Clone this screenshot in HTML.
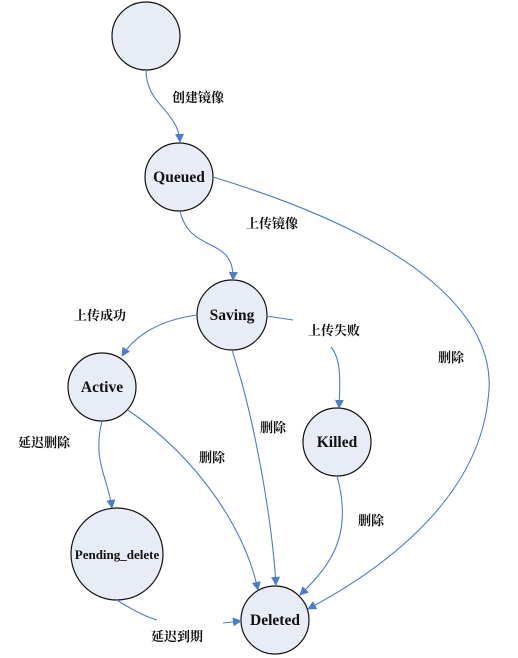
<!DOCTYPE html>
<html><head><meta charset="utf-8"><style>
html,body{margin:0;padding:0;background:#fff;}
svg{display:block}
.n{fill:#e7ecf7;stroke:#111;stroke-width:1.2}
.e{fill:none;stroke:#4a7cc9;stroke-width:1.1}
.t{font-family:"Liberation Serif","Noto Serif CJK SC",serif;font-weight:bold;font-size:15.5px;fill:#111}
.c{font-family:"Liberation Serif","Noto Serif CJK SC",serif;font-weight:bold;font-size:13px;fill:#111}
</style></head><body>
<svg width="518" height="658" viewBox="0 0 518 658" xmlns="http://www.w3.org/2000/svg">
<defs><marker id="a" viewBox="0 0 10 10" refX="9" refY="5" markerWidth="9" markerHeight="9" orient="auto" markerUnits="userSpaceOnUse"><path d="M0,0 L10,5 L0,10 z" fill="#4a7cc9"/></marker></defs>
<circle class="n" cx="146" cy="36" r="34"/>
<circle class="n" cx="179" cy="177" r="34"/>
<circle class="n" cx="232" cy="315" r="35"/>
<circle class="n" cx="102" cy="387" r="34"/>
<circle class="n" cx="337" cy="442" r="34"/>
<circle class="n" cx="117" cy="554" r="46"/>
<circle class="n" cx="275" cy="620" r="34"/>
<text class="t" x="179" y="182" text-anchor="middle">Queued</text>
<text class="t" x="232" y="320" text-anchor="middle">Saving</text>
<text class="t" x="102" y="392" text-anchor="middle">Active</text>
<text class="t" x="337" y="447" text-anchor="middle">Killed</text>
<text class="t" x="117" y="559" text-anchor="middle" style="font-size:13px">Pending_delete</text>
<text class="t" x="275" y="625" text-anchor="middle">Deleted</text>
<path class="e" marker-end="url(#a)" d="M146,70 C146,105 178,110 180,142"/>
<path class="e" marker-end="url(#a)" d="M180,211 C190,255 235,235 233,280"/>
<path class="e" marker-end="url(#a)" d="M213,177 C420,240 500,320 488,400 C478,490 400,560 308,609"/>
<path class="e" marker-end="url(#a)" d="M197,315 C160,320 135,335 122,356"/>
<path class="e" d="M266,316 L293,320"/>
<path class="e" marker-end="url(#a)" d="M331,347 C342,360 340,385 339,408"/>
<path class="e" marker-end="url(#a)" d="M232,350 C255,420 272,520 276,585"/>
<path class="e" marker-end="url(#a)" d="M102,421 C92,460 108,478 112,508"/>
<path class="e" marker-end="url(#a)" d="M128,410 C200,460 245,530 258,590"/>
<path class="e" marker-end="url(#a)" d="M337,476 C355,540 325,570 300,595"/>
<path class="e" d="M117,600 C135,612 150,618 157,620"/>
<path class="e" marker-end="url(#a)" d="M223,623 L241,621"/>
<text class="c" x="172" y="102">创建镜像</text>
<text class="c" x="246" y="228">上传镜像</text>
<text class="c" x="74" y="320">上传成功</text>
<text class="c" x="308" y="335">上传失败</text>
<text class="c" x="438" y="362">删除</text>
<text class="c" x="260" y="432">删除</text>
<text class="c" x="199" y="462">删除</text>
<text class="c" x="18" y="447">延迟删除</text>
<text class="c" x="358" y="525">删除</text>
<text class="c" x="151" y="641">延迟到期</text>
</svg>
</body></html>
